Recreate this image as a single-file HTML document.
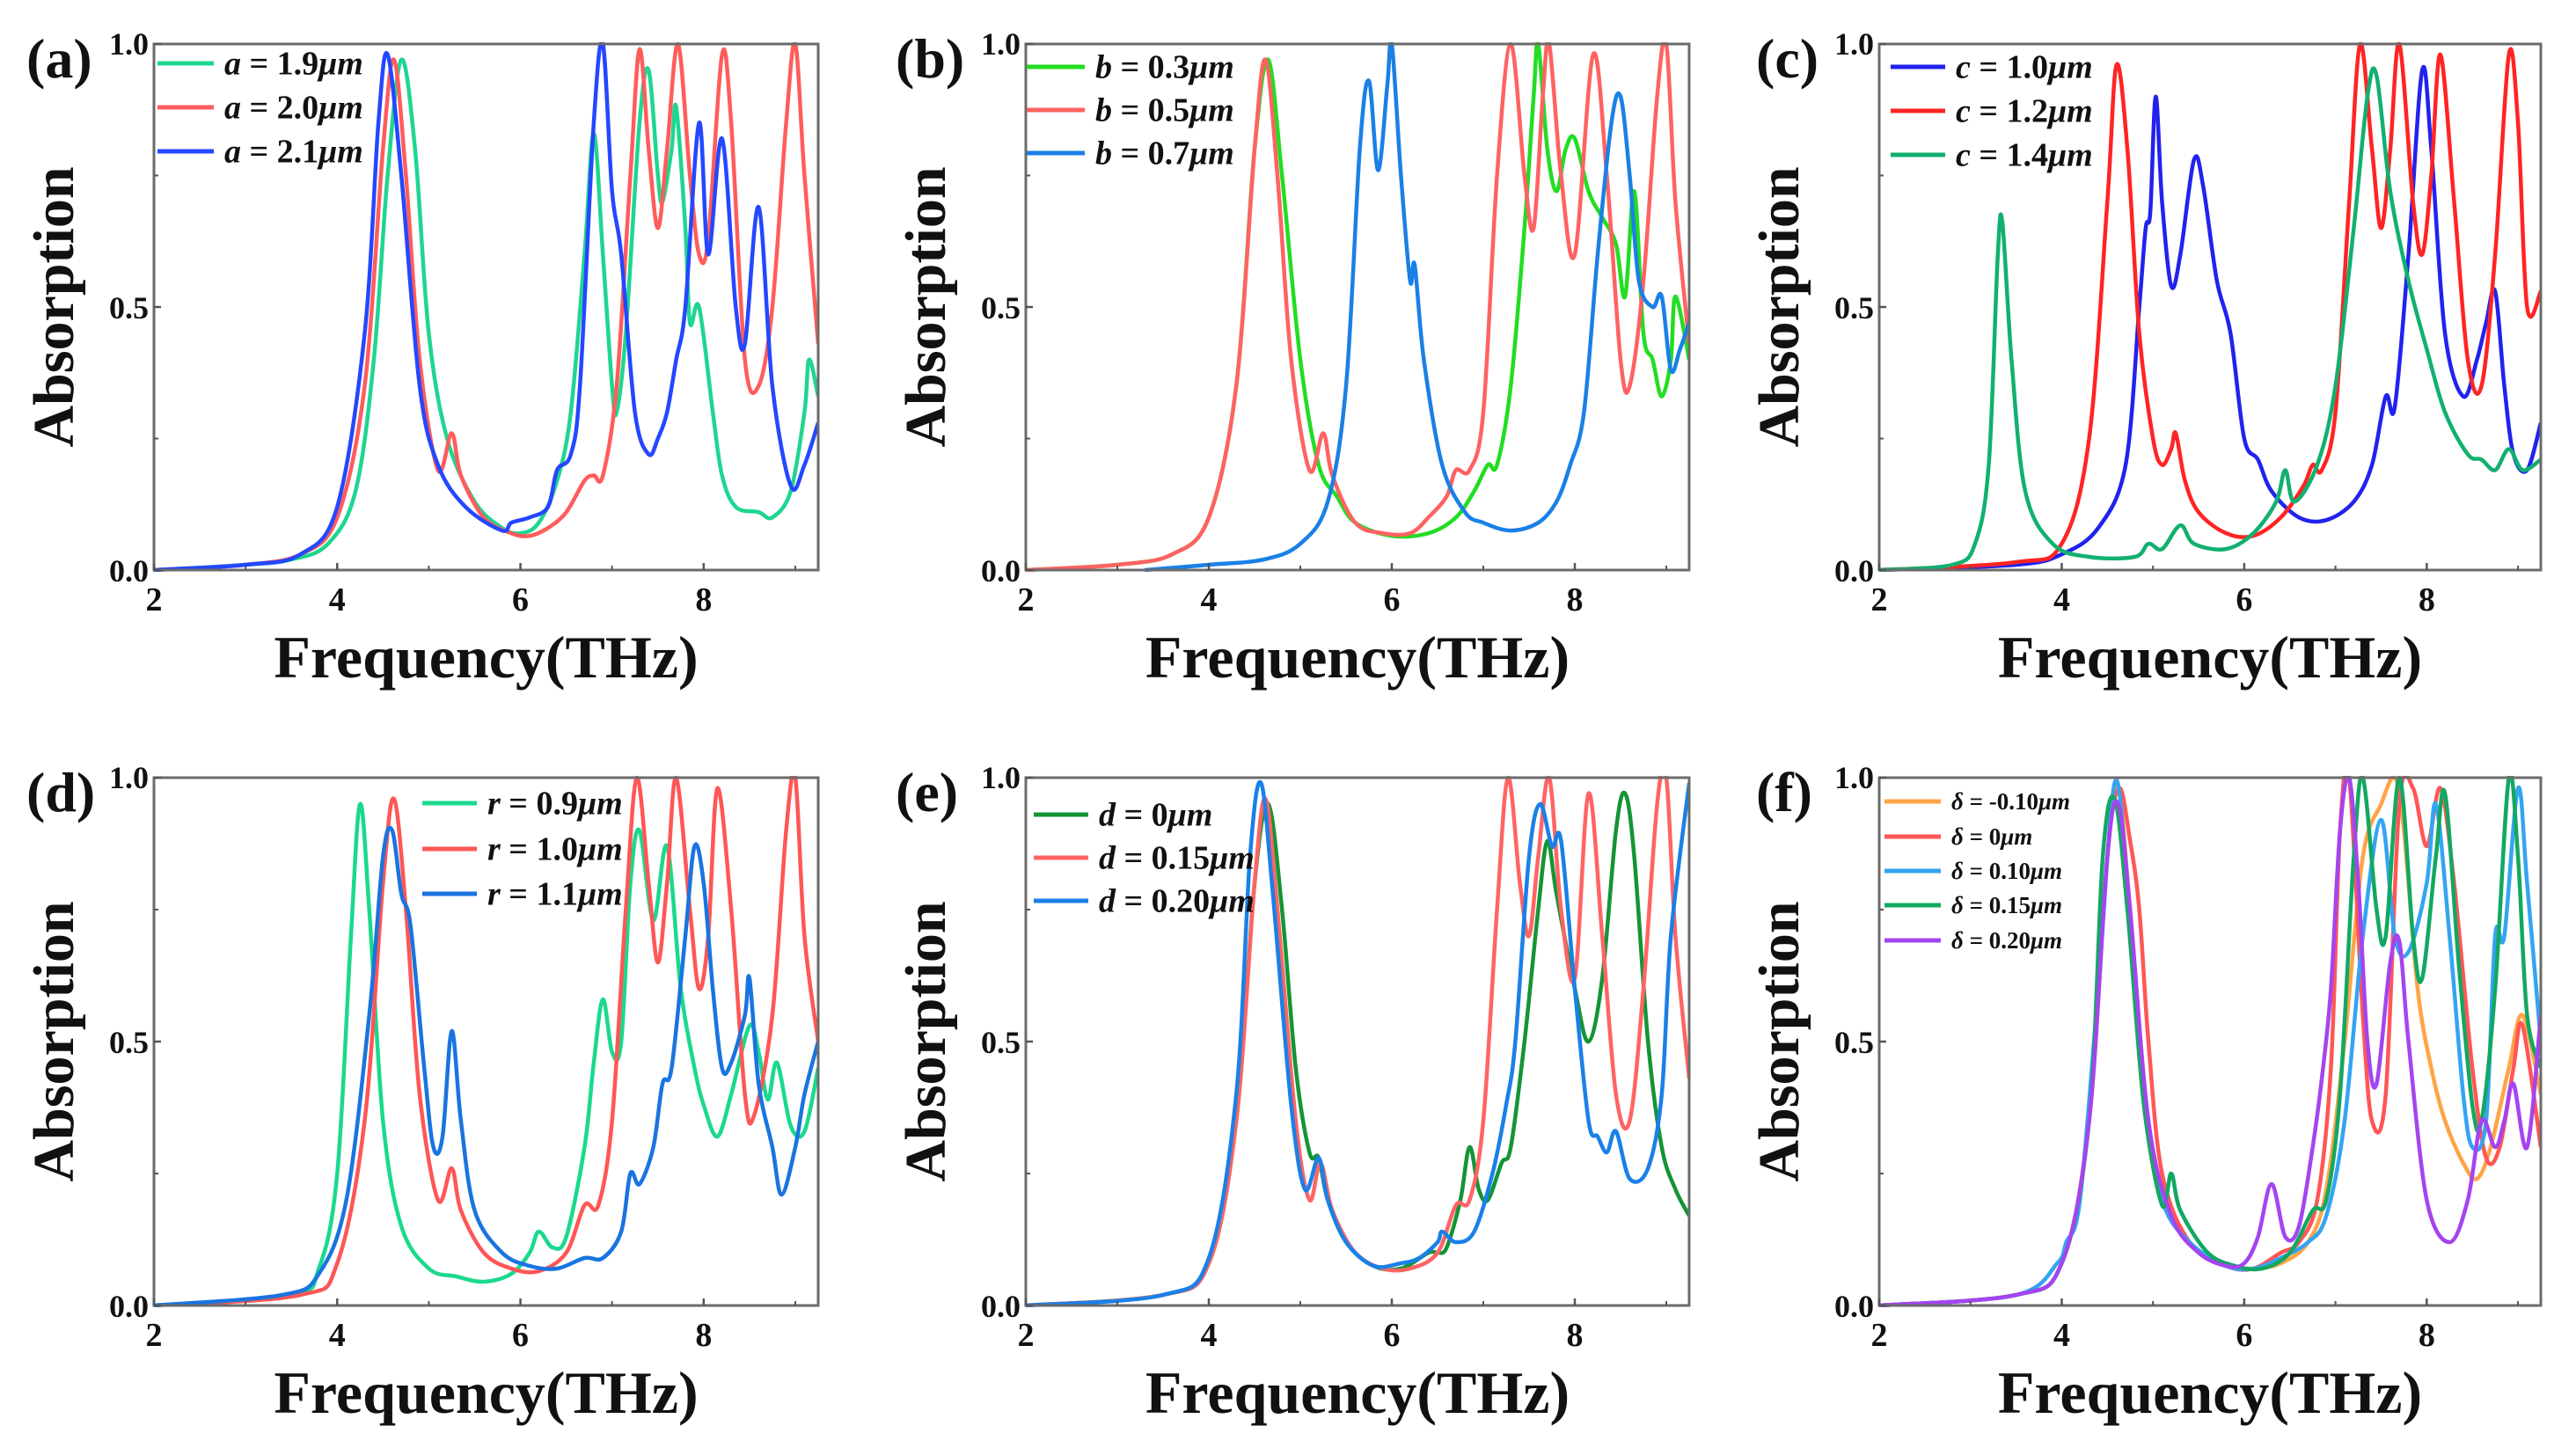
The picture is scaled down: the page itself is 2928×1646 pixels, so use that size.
<!DOCTYPE html>
<html><head><meta charset="utf-8"><style>
html,body{margin:0;padding:0;background:#fff}
svg{display:block}
text{font-family:"Liberation Serif",serif;font-weight:bold;fill:#111}
</style></head><body>
<svg id="fig" width="2928" height="1646" viewBox="0 0 2928 1646" xmlns="http://www.w3.org/2000/svg"></svg>
<script>
// ---- shared axis ticks ----
const xTickVals = [2,4,6,8];
const xMinorVals = [3,5,7,9];
const yTickVals = [0,0.5,1];
const yTickLabels = ["0.0","0.5","1.0"];
const yMinorVals = [0.25,0.75];

// ---- panel (a) ----
const a19 = [[2,0],[3,0.01],[3.5,0.02],[3.9,0.05],[4.2,0.15],[4.4,0.4],[4.55,0.75],[4.7,0.97],[4.85,0.8],[5.0,0.45],[5.2,0.25],[5.5,0.13],[5.8,0.08],[6.0,0.07],[6.2,0.09],[6.4,0.17],[6.55,0.3],[6.7,0.6],[6.8,0.83],[6.9,0.6],[7.0,0.35],[7.05,0.3],[7.15,0.45],[7.3,0.85],[7.4,0.95],[7.5,0.75],[7.55,0.7],[7.65,0.8],[7.7,0.88],[7.8,0.65],[7.85,0.47],[7.95,0.5],[8.1,0.3],[8.2,0.18],[8.35,0.12],[8.6,0.11],[8.75,0.1],[8.95,0.15],[9.1,0.3],[9.15,0.4],[9.25,0.33]];
const a20 = [[2,0],[3,0.01],[3.6,0.03],[4.0,0.1],[4.3,0.35],[4.5,0.8],[4.62,0.97],[4.75,0.75],[4.9,0.4],[5.1,0.19],[5.25,0.26],[5.35,0.18],[5.6,0.1],[5.9,0.07],[6.1,0.065],[6.3,0.08],[6.5,0.11],[6.7,0.17],[6.8,0.18],[6.9,0.18],[7.05,0.35],[7.2,0.75],[7.3,0.99],[7.4,0.8],[7.5,0.65],[7.6,0.8],[7.72,1.0],[7.85,0.75],[7.95,0.6],[8.05,0.63],[8.2,0.98],[8.3,0.85],[8.45,0.4],[8.6,0.35],[8.75,0.5],[8.9,0.85],[9.0,1.0],[9.1,0.75],[9.25,0.43]];
const a21 = [[2,0],[3,0.01],[3.6,0.03],[4.0,0.12],[4.3,0.45],[4.45,0.85],[4.55,0.98],[4.7,0.75],[4.9,0.35],[5.1,0.2],[5.4,0.12],[5.8,0.075],[5.9,0.09],[6.1,0.1],[6.3,0.12],[6.4,0.19],[6.55,0.22],[6.65,0.35],[6.8,0.85],[6.9,1.0],[7.0,0.72],[7.1,0.6],[7.25,0.3],[7.4,0.22],[7.5,0.25],[7.6,0.3],[7.7,0.4],[7.8,0.5],[7.95,0.85],[8.05,0.6],[8.2,0.82],[8.35,0.5],[8.45,0.43],[8.6,0.69],[8.75,0.35],[8.95,0.16],[9.1,0.2],[9.25,0.28]];

// ---- panel (b) ----
const b03 = [[2,0],[3,0.01],[3.6,0.03],[4.0,0.1],[4.3,0.35],[4.5,0.8],[4.65,0.97],[4.8,0.75],[5.0,0.4],[5.2,0.2],[5.4,0.14],[5.6,0.09],[6.0,0.065],[6.4,0.07],[6.7,0.1],[6.9,0.15],[7.05,0.2],[7.15,0.2],[7.3,0.35],[7.45,0.65],[7.55,0.9],[7.6,1.0],[7.7,0.8],[7.8,0.72],[7.9,0.8],[8.0,0.82],[8.15,0.72],[8.3,0.67],[8.45,0.62],[8.55,0.52],[8.65,0.72],[8.75,0.45],[8.85,0.4],[8.95,0.33],[9.05,0.4],[9.1,0.52],[9.25,0.4]];
const b05 = [[2,0],[3,0.01],[3.6,0.03],[4.0,0.1],[4.3,0.35],[4.5,0.8],[4.62,0.97],[4.75,0.75],[4.9,0.4],[5.1,0.19],[5.25,0.26],[5.35,0.18],[5.6,0.09],[5.9,0.07],[6.2,0.07],[6.4,0.1],[6.6,0.14],[6.7,0.19],[6.85,0.19],[7.0,0.3],[7.15,0.75],[7.3,1.0],[7.45,0.75],[7.55,0.65],[7.65,0.9],[7.72,1.0],[7.85,0.75],[8.0,0.6],[8.2,0.98],[8.35,0.75],[8.5,0.4],[8.6,0.35],[8.75,0.55],[8.9,0.9],[9.0,1.0],[9.1,0.7],[9.25,0.43]];
const b07 = [[3.3,0],[4.0,0.01],[4.6,0.02],[5.0,0.05],[5.3,0.13],[5.5,0.35],[5.65,0.8],[5.75,0.93],[5.85,0.76],[5.95,0.92],[6.0,1.0],[6.1,0.75],[6.2,0.55],[6.25,0.58],[6.35,0.4],[6.55,0.2],[6.8,0.11],[7.0,0.09],[7.3,0.075],[7.6,0.09],[7.8,0.13],[7.95,0.2],[8.1,0.3],[8.25,0.6],[8.4,0.85],[8.5,0.9],[8.6,0.75],[8.7,0.55],[8.85,0.5],[8.95,0.52],[9.05,0.38],[9.15,0.42],[9.25,0.47]];

// ---- panel (c) ----
const c10 = [[2,0],[3.5,0.01],[4.0,0.03],[4.4,0.08],[4.7,0.2],[4.85,0.5],[4.92,0.65],[4.97,0.68],[5.03,0.9],[5.1,0.7],[5.2,0.54],[5.3,0.6],[5.45,0.78],[5.55,0.73],[5.7,0.55],[5.85,0.45],[6.0,0.25],[6.15,0.21],[6.3,0.15],[6.6,0.1],[6.9,0.095],[7.2,0.13],[7.4,0.2],[7.55,0.33],[7.65,0.31],[7.8,0.6],[7.95,0.95],[8.05,0.8],[8.2,0.45],[8.4,0.33],[8.55,0.4],[8.65,0.47],[8.75,0.53],[8.85,0.35],[8.95,0.22],[9.1,0.19],[9.25,0.28]];
const c12 = [[2,0],[3.5,0.015],[4.0,0.05],[4.3,0.25],[4.5,0.7],[4.6,0.96],[4.72,0.8],[4.85,0.45],[5.0,0.25],[5.1,0.2],[5.2,0.23],[5.25,0.26],[5.35,0.17],[5.5,0.11],[5.8,0.07],[6.1,0.065],[6.4,0.1],[6.65,0.16],[6.75,0.2],[6.85,0.19],[7.0,0.3],[7.15,0.7],[7.27,1.0],[7.4,0.8],[7.5,0.65],[7.6,0.8],[7.7,1.0],[7.85,0.7],[7.95,0.6],[8.05,0.75],[8.15,0.98],[8.3,0.7],[8.45,0.4],[8.6,0.35],[8.75,0.6],[8.9,0.98],[9.0,0.85],[9.1,0.5],[9.25,0.53]];
const c14 = [[2,0],[2.8,0.01],[3.05,0.05],[3.2,0.2],[3.3,0.6],[3.35,0.66],[3.45,0.4],[3.6,0.15],[3.9,0.05],[4.3,0.025],[4.8,0.025],[4.95,0.05],[5.1,0.04],[5.3,0.085],[5.45,0.05],[5.8,0.04],[6.1,0.07],[6.35,0.13],[6.45,0.19],[6.55,0.13],[6.8,0.2],[7.0,0.35],[7.2,0.65],[7.35,0.9],[7.45,0.94],[7.6,0.72],[7.8,0.55],[8.0,0.42],[8.2,0.3],[8.45,0.22],[8.6,0.21],[8.75,0.19],[8.9,0.23],[9.05,0.19],[9.25,0.21]];

// ---- panel (d) ----
const d09 = [[2,0],[3.5,0.02],[3.8,0.07],[4.0,0.25],[4.15,0.7],[4.25,0.95],[4.35,0.75],[4.5,0.35],[4.7,0.15],[5.0,0.07],[5.3,0.055],[5.6,0.045],[5.9,0.06],[6.1,0.1],[6.2,0.14],[6.35,0.11],[6.5,0.13],[6.7,0.3],[6.8,0.46],[6.9,0.58],[7.0,0.48],[7.1,0.5],[7.2,0.8],[7.3,0.9],[7.45,0.73],[7.6,0.87],[7.75,0.6],[7.9,0.45],[8.0,0.38],[8.15,0.32],[8.3,0.4],[8.5,0.53],[8.6,0.48],[8.7,0.39],[8.8,0.46],[8.95,0.34],[9.1,0.33],[9.25,0.45]];
const d10 = [[2,0],[3.6,0.02],[4.0,0.08],[4.3,0.35],[4.5,0.8],[4.62,0.96],[4.75,0.75],[4.9,0.4],[5.1,0.2],[5.25,0.26],[5.35,0.18],[5.6,0.1],[5.9,0.07],[6.2,0.065],[6.5,0.1],[6.7,0.19],[6.85,0.19],[7.0,0.35],[7.15,0.75],[7.27,1.0],[7.4,0.8],[7.5,0.65],[7.6,0.8],[7.7,1.0],[7.85,0.75],[7.95,0.6],[8.05,0.7],[8.15,0.98],[8.3,0.75],[8.45,0.4],[8.55,0.36],[8.75,0.55],[8.9,0.9],[9.0,1.0],[9.1,0.7],[9.25,0.5]];
const d11 = [[2,0],[3.4,0.02],[3.8,0.06],[4.1,0.2],[4.35,0.55],[4.5,0.85],[4.6,0.9],[4.7,0.78],[4.8,0.72],[4.95,0.45],[5.05,0.3],[5.15,0.32],[5.25,0.52],[5.35,0.35],[5.5,0.18],[5.8,0.1],[6.1,0.075],[6.4,0.07],[6.7,0.09],[6.9,0.09],[7.1,0.14],[7.2,0.25],[7.3,0.23],[7.45,0.3],[7.55,0.42],[7.65,0.45],[7.8,0.7],[7.9,0.87],[8.0,0.8],[8.1,0.6],[8.2,0.45],[8.3,0.46],[8.45,0.55],[8.5,0.62],[8.6,0.42],[8.75,0.3],[8.85,0.21],[9.0,0.3],[9.1,0.4],[9.25,0.5]];

// ---- panel (e) ----
const e00 = [[2,0],[3.5,0.02],[4.0,0.08],[4.3,0.35],[4.5,0.8],[4.65,0.95],[4.8,0.75],[4.95,0.45],[5.1,0.29],[5.2,0.28],[5.3,0.2],[5.5,0.12],[5.8,0.075],[6.1,0.07],[6.4,0.1],[6.5,0.1],[6.6,0.11],[6.75,0.2],[6.85,0.3],[6.95,0.22],[7.05,0.2],[7.2,0.27],[7.3,0.3],[7.45,0.5],[7.6,0.75],[7.7,0.88],[7.8,0.78],[8.0,0.6],[8.15,0.5],[8.3,0.62],[8.45,0.9],[8.55,0.97],[8.65,0.85],[8.8,0.5],[8.95,0.3],[9.1,0.22],[9.25,0.17]];
const e15 = [[2,0],[3.5,0.02],[4.0,0.08],[4.3,0.35],[4.5,0.8],[4.62,0.96],[4.75,0.75],[4.95,0.35],[5.1,0.2],[5.22,0.27],[5.35,0.18],[5.6,0.1],[5.9,0.07],[6.2,0.07],[6.5,0.1],[6.7,0.19],[6.85,0.2],[7.0,0.35],[7.15,0.75],[7.27,1.0],[7.4,0.8],[7.5,0.7],[7.6,0.85],[7.72,1.0],[7.85,0.75],[8.0,0.62],[8.15,0.97],[8.3,0.7],[8.45,0.4],[8.6,0.35],[8.75,0.6],[8.9,0.95],[9.0,1.0],[9.1,0.7],[9.25,0.43]];
const e20 = [[2,0],[3.5,0.02],[4.0,0.09],[4.3,0.4],[4.45,0.85],[4.57,0.99],[4.7,0.78],[4.9,0.38],[5.05,0.22],[5.2,0.28],[5.3,0.2],[5.5,0.12],[5.8,0.075],[6.1,0.08],[6.3,0.09],[6.5,0.12],[6.55,0.14],[6.7,0.12],[6.9,0.14],[7.1,0.25],[7.25,0.38],[7.35,0.5],[7.5,0.85],[7.62,0.95],[7.75,0.87],[7.85,0.88],[8.0,0.6],[8.15,0.35],[8.25,0.32],[8.35,0.29],[8.45,0.33],[8.6,0.24],[8.8,0.26],[8.95,0.4],[9.05,0.7],[9.25,0.99]];

// ---- panel (f) ----
const fm10 = [[2,0],[3.5,0.02],[4.0,0.08],[4.3,0.35],[4.5,0.85],[4.62,0.98],[4.75,0.75],[4.95,0.35],[5.2,0.17],[5.5,0.1],[5.8,0.075],[6.1,0.07],[6.4,0.08],[6.7,0.12],[6.9,0.22],[7.1,0.5],[7.3,0.85],[7.5,0.95],[7.65,1.0],[7.75,0.9],[7.9,0.6],[8.05,0.45],[8.2,0.35],[8.4,0.27],[8.55,0.24],[8.7,0.3],[8.9,0.45],[9.05,0.55],[9.25,0.4]];
const f00 = [[2,0],[3.5,0.02],[4.0,0.08],[4.3,0.35],[4.5,0.85],[4.63,0.98],[4.75,0.88],[4.85,0.75],[4.95,0.5],[5.1,0.25],[5.4,0.12],[5.8,0.075],[6.1,0.07],[6.4,0.1],[6.6,0.12],[6.8,0.2],[6.95,0.45],[7.05,0.9],[7.15,1.0],[7.3,0.55],[7.4,0.35],[7.55,0.4],[7.7,0.95],[7.85,0.98],[8.0,0.87],[8.15,0.98],[8.3,0.8],[8.5,0.45],[8.65,0.28],[8.8,0.3],[8.95,0.45],[9.05,0.53],[9.25,0.3]];
const f10 = [[2,0],[3.5,0.02],[3.95,0.08],[4.05,0.12],[4.2,0.2],[4.4,0.6],[4.58,0.99],[4.72,0.8],[4.9,0.4],[5.1,0.2],[5.4,0.12],[5.8,0.075],[6.1,0.07],[6.4,0.09],[6.7,0.12],[6.9,0.17],[7.1,0.35],[7.3,0.7],[7.5,0.92],[7.65,0.7],[7.8,0.67],[8.0,0.8],[8.1,0.95],[8.25,0.7],[8.4,0.4],[8.5,0.3],[8.65,0.35],[8.75,0.7],[8.85,0.7],[9.0,0.98],[9.1,0.8],[9.25,0.5]];
const f15 = [[2,0],[3.5,0.02],[4.0,0.08],[4.3,0.35],[4.45,0.85],[4.58,0.96],[4.72,0.75],[4.9,0.38],[5.1,0.19],[5.2,0.25],[5.3,0.18],[5.6,0.1],[5.9,0.075],[6.2,0.07],[6.5,0.1],[6.75,0.18],[6.9,0.2],[7.05,0.4],[7.2,0.85],[7.3,1.0],[7.45,0.75],[7.55,0.7],[7.7,1.0],[7.85,0.7],[7.95,0.62],[8.1,0.85],[8.2,0.97],[8.35,0.65],[8.5,0.38],[8.6,0.35],[8.75,0.6],[8.9,1.0],[9.0,0.85],[9.1,0.55],[9.25,0.45]];
const f20 = [[2,0],[3.5,0.02],[4.0,0.08],[4.3,0.35],[4.5,0.85],[4.62,0.95],[4.75,0.75],[4.95,0.35],[5.2,0.17],[5.5,0.1],[5.8,0.075],[6.0,0.08],[6.15,0.13],[6.3,0.23],[6.45,0.13],[6.6,0.15],[6.75,0.3],[6.85,0.43],[6.95,0.6],[7.05,0.9],[7.15,1.0],[7.25,0.8],[7.35,0.5],[7.45,0.42],[7.6,0.65],[7.7,0.69],[7.8,0.5],[8.0,0.2],[8.25,0.12],[8.45,0.2],[8.6,0.35],[8.75,0.3],[8.85,0.35],[8.95,0.42],[9.1,0.3],[9.25,0.55]];

const panels = [
 {id:'a',L:175,R:930,T:50,B:648,lab:[30,88],leg:{x:179,len:64,y:[72,122,172],fs:38},series:[
   {d:a19,c:'#1ed690',v:'a',val:'1.9'},{d:a20,c:'#ff5c5c',v:'a',val:'2.0'},{d:a21,c:'#2447ff',v:'a',val:'2.1'}]},
 {id:'b',L:1166,R:1920,T:50,B:648,lab:[1018,88],leg:{x:1167,len:66,y:[76,125,174],fs:38},series:[
   {d:b03,c:'#22dd22',v:'b',val:'0.3'},{d:b05,c:'#ff6262',v:'b',val:'0.5'},{d:b07,c:'#1a80e6',v:'b',val:'0.7'}]},
 {id:'c',L:2136,R:2888,T:50,B:648,lab:[1996,88],leg:{x:2149,len:62,y:[76,126,176],fs:38},series:[
   {d:c10,c:'#2222ee',v:'c',val:'1.0'},{d:c12,c:'#ff2424',v:'c',val:'1.2'},{d:c14,c:'#12b070',v:'c',val:'1.4'}]},
 {id:'d',L:175,R:930,T:884,B:1484,lab:[30,922],leg:{x:480,len:62,y:[913,965,1016],fs:38},series:[
   {d:d09,c:'#1ad98c',v:'r',val:'0.9'},{d:d10,c:'#ff5656',v:'r',val:'1.0'},{d:d11,c:'#1a74e0',v:'r',val:'1.1'}]},
 {id:'e',L:1166,R:1920,T:884,B:1484,lab:[1018,922],leg:{x:1175,len:62,y:[926,975,1024],fs:38},series:[
   {d:e00,c:'#149435',v:'d',val:'0'},{d:e15,c:'#ff6464',v:'d',val:'0.15'},{d:e20,c:'#1a80e8',v:'d',val:'0.20'}]},
 {id:'f',L:2136,R:2888,T:884,B:1484,lab:[1996,922],leg:{x:2142,len:64,y:[911,951,990,1029,1069],fs:27},series:[
   {d:fm10,c:'#ffa446',v:'δ',val:'-0.10'},{d:f00,c:'#ff5656',v:'δ',val:'0'},{d:f10,c:'#34a4f2',v:'δ',val:'0.10'},{d:f15,c:'#12a862',v:'δ',val:'0.15'},{d:f20,c:'#a444f0',v:'δ',val:'0.20'}]}
];
const X0=2, X1=9.25;
const NS='http://www.w3.org/2000/svg';
const svg=document.getElementById('fig');
function mk(tag,attrs,parent){const e=document.createElementNS(NS,tag);for(const k in attrs)e.setAttribute(k,attrs[k]);(parent||svg).appendChild(e);return e;}
function pathFrom(pts,sx,sy){
  const P=pts.map(p=>[sx(p[0]),sy(p[1])]);
  let s='M'+P[0][0].toFixed(1)+','+P[0][1].toFixed(1);
  for(let i=0;i<P.length-1;i++){
    const p0=P[Math.max(0,i-1)],p1=P[i],p2=P[i+1],p3=P[Math.min(P.length-1,i+2)];
    const t=6;
    const c1=[p1[0]+(p2[0]-p0[0])/t,p1[1]+(p2[1]-p0[1])/t];
    const c2=[p2[0]-(p3[0]-p1[0])/t,p2[1]-(p3[1]-p1[1])/t];
    s+='C'+c1[0].toFixed(1)+','+c1[1].toFixed(1)+' '+c2[0].toFixed(1)+','+c2[1].toFixed(1)+' '+p2[0].toFixed(1)+','+p2[1].toFixed(1);
  }
  return s;
}
panels.forEach(p=>{
  const g=mk('g',{});
  
  
  const sx=v=>p.L+(v-X0)/(X1-X0)*(p.R-p.L);
  const sy=v=>p.B-v*(p.B-p.T);
  const clip=mk('clipPath',{id:'clip-'+p.id},g);
  mk('rect',{x:p.L,y:p.T-2,width:p.R-p.L,height:p.B-p.T+4},clip);
  const sg=mk('g',{'clip-path':'url(#clip-'+p.id+')'},g);
  p.series.forEach((s,i)=>{
    const path=mk('path',{d:pathFrom(s.d,sx,sy),fill:'none',stroke:s.c,'stroke-width':4.5,'stroke-linejoin':'round'},sg);
    
    
  });
  const fr=mk('rect',{x:p.L,y:p.T,width:p.R-p.L,height:p.B-p.T,fill:'none',stroke:'#6b6b6b','stroke-width':3},g);
  
  
  xTickVals.forEach(v=>{
    mk('line',{x1:sx(v),x2:sx(v),y1:p.B,y2:p.B-8,stroke:'#555','stroke-width':2.5},g);
    const t=mk('text',{x:sx(v),y:p.B+46,'text-anchor':'middle','font-size':38},g);
    t.textContent=String(v);
    
    
  });
  xMinorVals.forEach(v=>{ if(v<=X1) mk('line',{x1:sx(v),x2:sx(v),y1:p.B,y2:p.B-5,stroke:'#555','stroke-width':2},g);});
  yTickVals.forEach((v,i)=>{
    mk('line',{x1:p.L,x2:p.L+8,y1:sy(v),y2:sy(v),stroke:'#555','stroke-width':2.5},g);
    const yy = v===1 ? p.T+12 : sy(v)+13;
    const t=mk('text',{x:p.L-6,y:yy,'text-anchor':'end','font-size':36},g);
    t.textContent=yTickLabels[i];
    
    
  });
  yMinorVals.forEach(v=>mk('line',{x1:p.L,x2:p.L+5,y1:sy(v),y2:sy(v),stroke:'#555','stroke-width':2},g));
  const xt=mk('text',{x:(p.L+p.R)/2,y:p.B+122,'text-anchor':'middle','font-size':68},g);
  xt.textContent='Frequency(THz)';
  
  
  const cy=(p.T+p.B)/2, cx=p.L-92;
  const yt=mk('text',{x:cx,y:cy,'text-anchor':'middle','font-size':66,transform:'rotate(-90 '+cx+' '+cy+')'},g);
  yt.textContent='Absorption';
  
  
  const pl=mk('text',{x:p.lab[0],y:p.lab[1],'font-size':64},g);
  pl.textContent='('+p.id+')';
  
  
  const lg=mk('g',{},g);
  
  
  p.series.forEach((s,i)=>{
    const y=p.leg.y[i];
    mk('line',{x1:p.leg.x,x2:p.leg.x+p.leg.len,y1:y,y2:y,stroke:s.c,'stroke-width':5},lg);
    const t=mk('text',{x:p.leg.x+p.leg.len+12,y:y+p.leg.fs*0.33,'font-size':p.leg.fs},lg);
    
    
    const a=mk('tspan',{'font-style':'italic'},t); a.textContent=s.v;
    const b=mk('tspan',{},t); b.textContent=' = '+s.val;
    const c=mk('tspan',{'font-style':'italic'},t); c.textContent='μm';
  });
});
</script>
</body></html>
